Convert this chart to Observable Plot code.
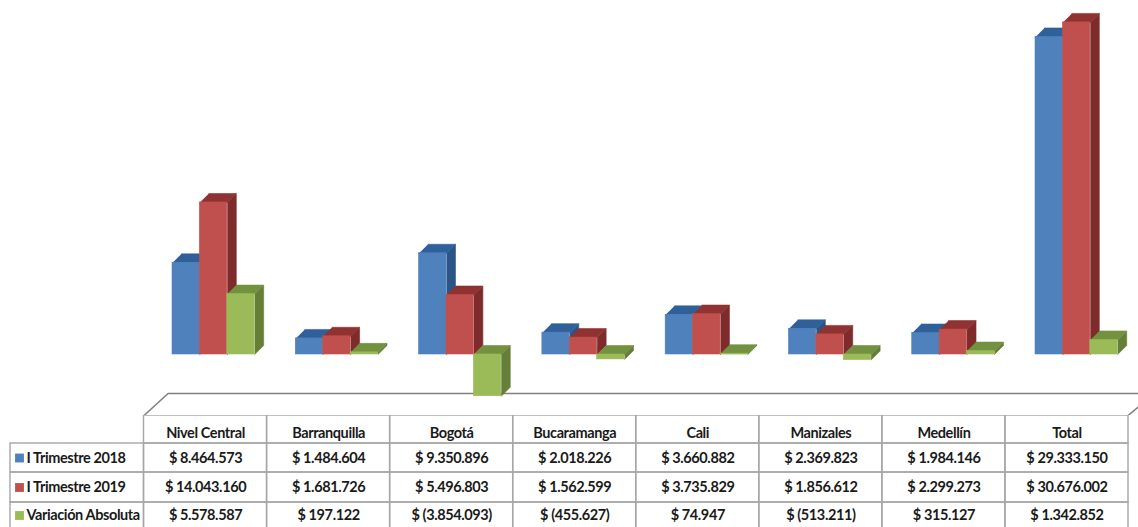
<!DOCTYPE html>
<html lang="es">
<head>
<meta charset="utf-8">
<script src="https://cdn.jsdelivr.net/npm/d3@7"></script>
<script src="https://cdn.jsdelivr.net/npm/@observablehq/plot@0.6"></script>
<style>
html,body{margin:0;padding:0;background:#fff;overflow:hidden}
svg{display:block}
</style>
</head>
<body>
<div id="chart"></div>
<script>
const categories = ["Nivel Central","Barranquilla","Bogotá","Bucaramanga","Cali","Manizales","Medellín","Total"];
const seriesNames = ["I Trimestre 2018","I Trimestre 2019","Variación Absoluta"];
const trimestre2018 = [8464573,1484604,9350896,2018226,3660882,2369823,1984146,29333150];
const trimestre2019 = [14043160,1681726,5496803,1562599,3735829,1856612,2299273,30676002];
const variacion = [5578587,197122,-3854093,-455627,74947,-513211,315127,1342852];
const seriesValues = [trimestre2018,trimestre2019,variacion];

const frontColors = ["#4f81bd","#c0504d","#9bbb59"];
const topColors = ["#30609a","#8f3231","#72923f"];
const sideColors = ["#2b5586","#7e2c2b","#657f38"];

// Chart geometry, in scale units
const yDomain = [-5635000,32699000];
const barStart = 0.2312, barWidth = 0.2222;
const depthX = 9/123.29, depthY = 831000;

const money = v => {
  const s = d3.format(",")(Math.abs(v)).replace(/,/g,".");
  return v < 0 ? `$ (${s})` : `$ ${s}`;
};

const bars = seriesValues.map((values,s) => values.map((v,c) => {
  const x1 = c + barStart + s*barWidth, x2 = x1 + barWidth;
  const top = Math.max(0,v), bot = Math.min(0,v);
  return {c,s,v,x1,x2,top,bot};
}));

const polygons = (rows,face) => rows.flatMap(b => {
  const pts = face === "top"
    ? [[b.x1,b.top],[b.x2,b.top],[b.x2+depthX,b.top+depthY],[b.x1+depthX,b.top+depthY]]
    : [[b.x2,b.top],[b.x2+depthX,b.top+depthY],[b.x2+depthX,b.bot+depthY],[b.x2,b.bot]];
  return pts.map(([x,y]) => ({x,y,id:b.c}));
});

const marks = [];
// Floor of the 3D chart
const floor = [[0,-5635000],[0.195,-3602000],[8.195,-3602000],[7.982,-5635000]].map(([x,y]) => ({x,y}));
marks.push(Plot.line(floor,{x:"x",y:"y",stroke:"#808080",strokeWidth:1.6,fill:"none"}));

// Each series in the order the original stacks them: side, top, front
bars.forEach((rows,s) => {
  marks.push(Plot.line(polygons(rows,"side"),{x:"x",y:"y",z:"id",fill:sideColors[s],stroke:sideColors[s],strokeWidth:0.6}));
  marks.push(Plot.line(polygons(rows,"top"),{x:"x",y:"y",z:"id",fill:topColors[s],stroke:topColors[s],strokeWidth:0.6}));
  marks.push(Plot.rect(rows,{x1:"x1",x2:"x2",y1:"bot",y2:"top",fill:frontColors[s],stroke:frontColors[s],strokeWidth:0.6}));
});

const chart = Plot.plot({
  width:1138,height:415,
  marginTop:0,marginRight:0,marginBottom:0,marginLeft:0,
  x:{type:"linear",domain:[0,8],range:[143.5,1129.8],axis:null},
  y:{type:"linear",domain:yDomain,range:[415,0],axis:null},
  marks
});

// Data table below the chart
const font = {fontFamily:"Lato, sans-serif",fontWeight:700,fill:"#1a1a1a",fontSize:14.5};
const headerCells = categories.map((name,c) => ({name,c}));
const bodyCells = seriesNames.flatMap((name,s) => categories.map((cat,c) => ({s,c,text:money(seriesValues[s][c])})));
const labelCells = seriesNames.map((name,s) => ({name,s,color:frontColors[s]}));
const gridStyle = {fill:"none",stroke:"#a6a6a6",strokeWidth:1.4};

const table = Plot.plot({
  width:1138,height:112,
  marginTop:0,marginRight:0,marginBottom:0,marginLeft:0,
  style:{letterSpacing:"-0.4px"},
  x:{type:"linear",domain:[-1,0,8],range:[10,143.5,1128],axis:null},
  y:{type:"linear",domain:[0,1,2,3,4],range:[0,28,57,87,113],axis:null},
  color:{type:"identity"},
  marks:[
    Plot.rect(headerCells,{x1:"c",x2:d=>d.c+1,y1:()=>0,y2:()=>1,...gridStyle}),
    Plot.rect(bodyCells,{x1:"c",x2:d=>d.c+1,y1:d=>d.s+1,y2:d=>d.s+2,...gridStyle}),
    Plot.rect(labelCells,{x1:()=>-1,x2:()=>0,y1:d=>d.s+1,y2:d=>d.s+2,...gridStyle}),
    Plot.dot(labelCells,{x:()=>-1,y:d=>d.s+1.5,dx:9,symbol:"square",r:5,fill:"color",stroke:"none"}),
    Plot.text(labelCells,{x:()=>-1,y:d=>d.s+1.5,dx:16,text:"name",textAnchor:"start",...font}),
    Plot.text(headerCells,{x:d=>d.c+0.5,y:()=>0.5,dy:4,text:"name",...font}),
    Plot.text(bodyCells,{x:d=>d.c+0.5,y:d=>d.s+1.5,text:"text",...font})
  ]
});

document.getElementById("chart").append(chart,table);
</script>
</body>
</html>
